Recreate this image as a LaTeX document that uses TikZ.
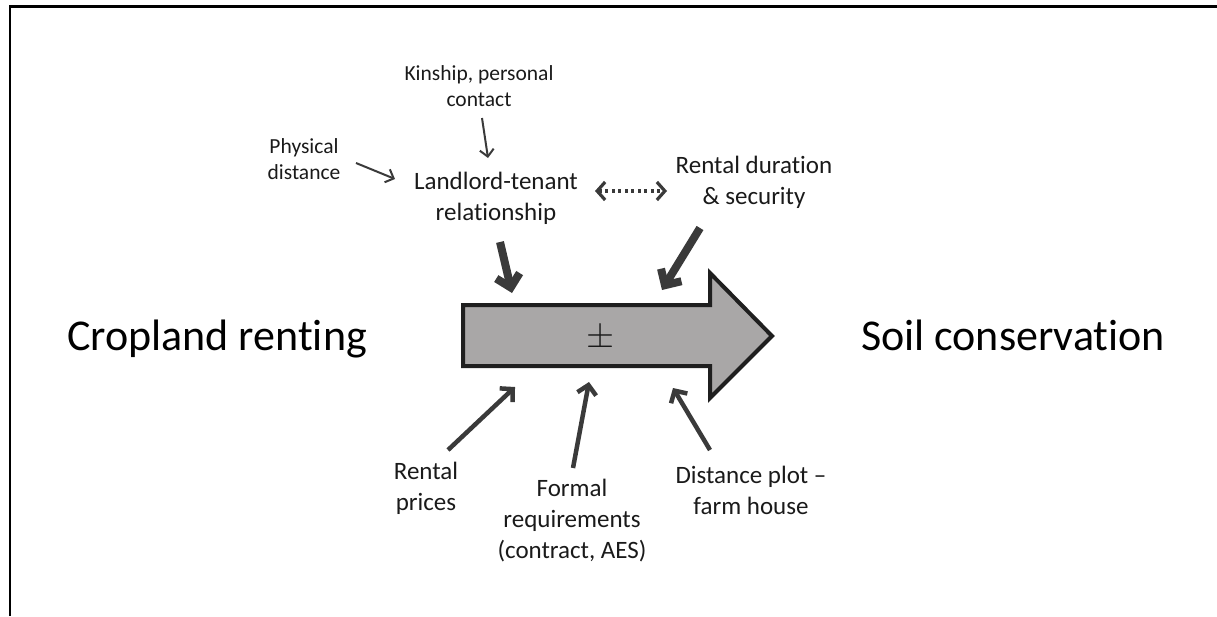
\documentclass[tikz,border=0pt]{standalone}
\usepackage{fontspec}
\setmainfont[Ligatures=NoCommon]{Carlito}
\usetikzlibrary{arrows.meta}
\definecolor{arr}{HTML}{3A3A3A}
\definecolor{txt}{HTML}{1A1A1A}
\definecolor{boxfill}{HTML}{A9A7A7}
\begin{document}
\begin{tikzpicture}[x=1pt,y=-1pt,
  lbl/.style={align=center, inner sep=0pt, text=txt, font=\fontsize{25}{31}\selectfont},
  small/.style={align=center, inner sep=0pt, text=txt, font=\fontsize{21.5}{26}\selectfont},
  big/.style={inner sep=0pt, text=black, font=\fontsize{44}{50}\selectfont},
  thinarr/.style={draw=arr, line width=2pt, -{Straight Barb[length=7pt,width=14pt]}},
  midarr/.style={draw=arr, line width=4.5pt, -{Straight Barb[length=9pt,width=19pt]}},
  thickarr/.style={draw=arr, line width=8pt, -{Straight Barb[length=12pt,width=24pt]}},
  dotarr/.style={draw=arr, line width=3.2pt, dash pattern=on 3pt off 3.5pt, {Straight Barb[length=8pt,width=18pt]}-{Straight Barb[length=8pt,width=18pt]}},
]
\useasboundingbox (0,0) rectangle (1217,616);
% frame
\draw[line width=2.6pt, black] (10,616) -- (10,6.7) -- (1217,6.7);

% main arrow
\draw[fill=boxfill, draw=black!88, line width=4pt, line join=miter]
  (463,305) -- (710,305) -- (710,273) -- (772,336) -- (710,398) -- (710,366) -- (463,366) -- cycle;
\node[inner sep=0pt, text=txt] (pm) at (601,338) {\scalebox{1.45}{\fontsize{25}{25}\selectfont$\pm$}};

% big labels
\node[big, anchor=base] (crop) at (217,350) {Cropland renting};
\node[big, anchor=base] (soil) at (1013,350) {Soil conservation};

% upper labels
\node[small] (kin) at (479,86) {Kinship, personal\\contact};
\node[small] (phys) at (304,159.5) {Physical\\distance};
\node[lbl] (lt) at (496,198) {Landlord-tenant\\relationship};
\node[lbl] (rd) at (754,182) {Rental duration\\\& security};

% lower labels
\node[lbl] (rp) at (426,488) {Rental\\prices};
\node[lbl] (fr) at (572,521) {Formal\\requirements\\(contract, AES)};
\node[lbl] (dp) at (751,490) {Distance plot --\\farm house};

% connector end points
\coordinate (kinS) at (482,118);   \coordinate (kinE) at (488,158);
\coordinate (phS) at (356,163);    \coordinate (phE) at (395,179);
\coordinate (ltS) at (500,242);    \coordinate (ltE) at (512,293);
\coordinate (rdS) at (700,228);    \coordinate (rdE) at (662,290);
\coordinate (dotL) at (595,191);   \coordinate (dotR) at (667,191);
\coordinate (rpS) at (448,450);    \coordinate (rpE) at (515,387);
\coordinate (frS) at (573,468);    \coordinate (frE) at (589,382);
\coordinate (dpS) at (710,450);    \coordinate (dpE) at (673,388);

\draw[thinarr] (kinS) -- (kinE);
\draw[thinarr] (phS) -- (phE);
\draw[thickarr] (ltS) -- (ltE);
\draw[thickarr] (rdS) -- (rdE);
\draw[dotarr] (dotL) -- (dotR);
\draw[midarr] (rpS) -- (rpE);
\draw[midarr] (frS) -- (frE);
\draw[midarr] (dpS) -- (dpE);
\end{tikzpicture}
\end{document}
